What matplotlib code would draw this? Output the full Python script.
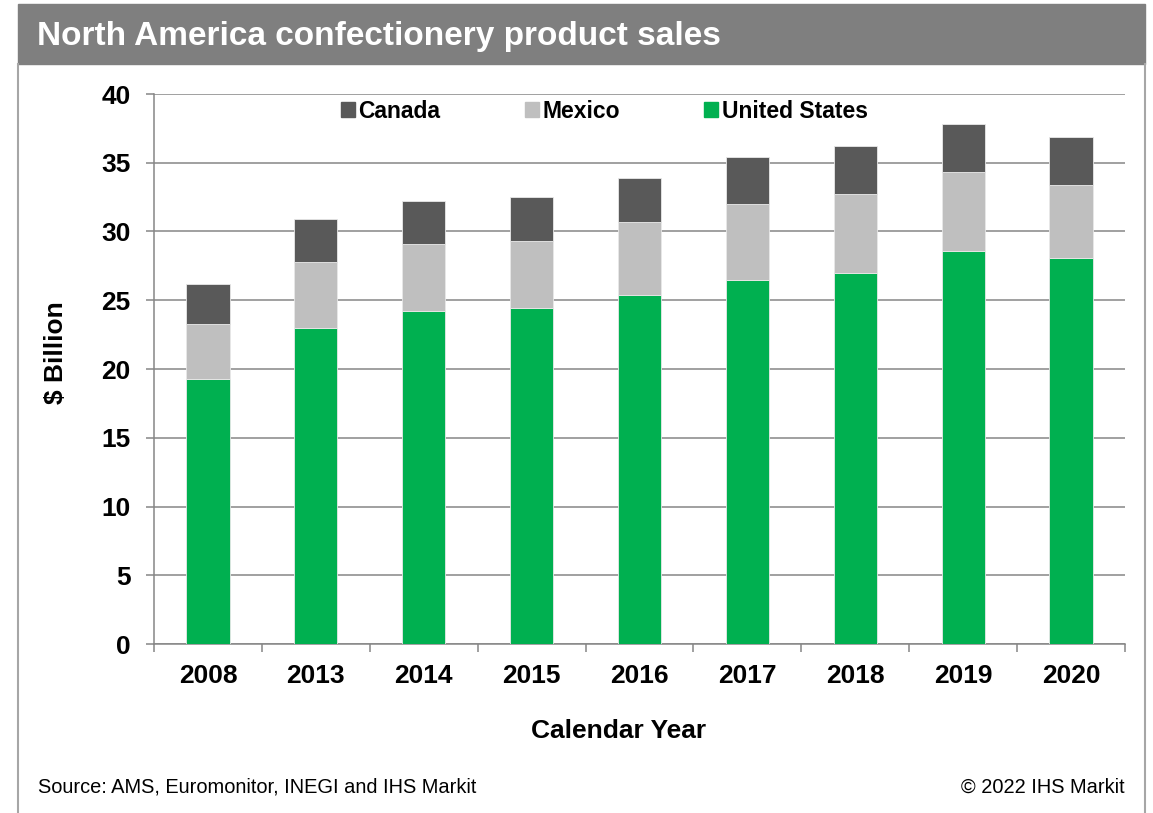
import matplotlib.pyplot as plt
import numpy as np
from matplotlib.patches import Rectangle
from matplotlib.lines import Line2D

plt.rcParams['font.family'] = ['Liberation Sans', 'DejaVu Sans']

# sales in $ billion by calendar year
years = ["2008", "2013", "2014", "2015", "2016", "2017", "2018", "2019", "2020"]
united_states = [19.3, 23.0, 24.2, 24.4, 25.4, 26.5, 27.0, 28.6, 28.1]
mexico = [4.0, 4.8, 4.9, 4.9, 5.3, 5.5, 5.7, 5.7, 5.3]
canada = [2.9, 3.1, 3.1, 3.2, 3.2, 3.4, 3.5, 3.5, 3.5]

GREEN = "#00B050"
LIGHT = "#BFBFBF"
DARK = "#595959"
GRID = "#868686"

W, H = 1153, 813
fig = plt.figure(figsize=(W / 100, H / 100), dpi=100)


def fx(px):
    return px / W


def fy(py):
    return 1 - py / H


# header band and side rules
fig.patches.append(Rectangle((fx(18), fy(64)), fx(1145) - fx(18), fy(4) - fy(64),
                             transform=fig.transFigure, color="#7F7F7F", zorder=0))
for xp in (18, 1145):
    fig.lines.append(Line2D([fx(xp), fx(xp)], [0, fy(64)], transform=fig.transFigure,
                            color="#A6A6A6", lw=1.5))
fig.text(fx(37), fy(37), "North America confectionery product sales", color="white",
         fontsize=24, fontweight="bold", ha="left", va="center")

ax = fig.add_axes([fx(154), fy(644), fx(1125) - fx(154), fy(94) - fy(644)])

x = np.arange(len(years))
us = np.array(united_states)
mx = np.array(mexico)
ca = np.array(canada)
kw = dict(width=0.4, edgecolor="#E8E8E8", linewidth=0.6, zorder=3)
ax.bar(x, us, color=GREEN, **kw)
ax.bar(x, mx, bottom=us, color=LIGHT, **kw)
ax.bar(x, ca, bottom=us + mx, color=DARK, **kw)

ax.set_xlim(-0.5, len(years) - 0.5)
ax.set_ylim(0, 40)
ax.set_yticks(range(0, 41, 5))
ax.set_xticks(x)
ax.set_xticklabels(years)
ax.set_xticks(np.arange(-0.5, len(years)), minor=True)

ax.yaxis.grid(True, color=GRID, lw=1.1, zorder=0)
ax.set_axisbelow(True)
for s in ("top", "right"):
    ax.spines[s].set_visible(False)
for s in ("left", "bottom"):
    ax.spines[s].set_color(GRID)
    ax.spines[s].set_linewidth(1.1)

ax.tick_params(axis="y", length=6, width=1.1, color=GRID, pad=11, labelsize=19)
ax.tick_params(axis="x", which="major", length=0, pad=14.5, labelsize=19)
ax.tick_params(axis="x", which="minor", length=6, width=1.1, color=GRID)
for lab in ax.get_xticklabels() + ax.get_yticklabels():
    lab.set_fontweight("bold")

fig.text(fx(619), fy(731), "Calendar Year", fontsize=19, fontweight="bold",
         ha="center", va="center")
fig.text(fx(56), fy(353), "$ Billion", fontsize=19, fontweight="bold",
         rotation=90, ha="center", va="center")

handles = [Rectangle((0, 0), 1, 1, color=c) for c in (DARK, LIGHT, GREEN)]
fig.legend(handles, ["Canada", "Mexico", "United States"], ncol=3, frameon=False,
           loc="center left", bbox_to_anchor=(fx(341), fy(111)),
           prop={"size": 16.5, "weight": "bold"}, handlelength=0.6, handleheight=0.6,
           handletextpad=0.15, columnspacing=3.7, borderpad=0, borderaxespad=0)

fig.text(fx(38), fy(787), "Source: AMS, Euromonitor, INEGI and IHS Markit",
         fontsize=14.4, ha="left", va="center")
fig.text(fx(1125), fy(787), "\u00a9 2022 IHS Markit", fontsize=14.4,
         ha="right", va="center")

fig.savefig("out.png", dpi=100)
